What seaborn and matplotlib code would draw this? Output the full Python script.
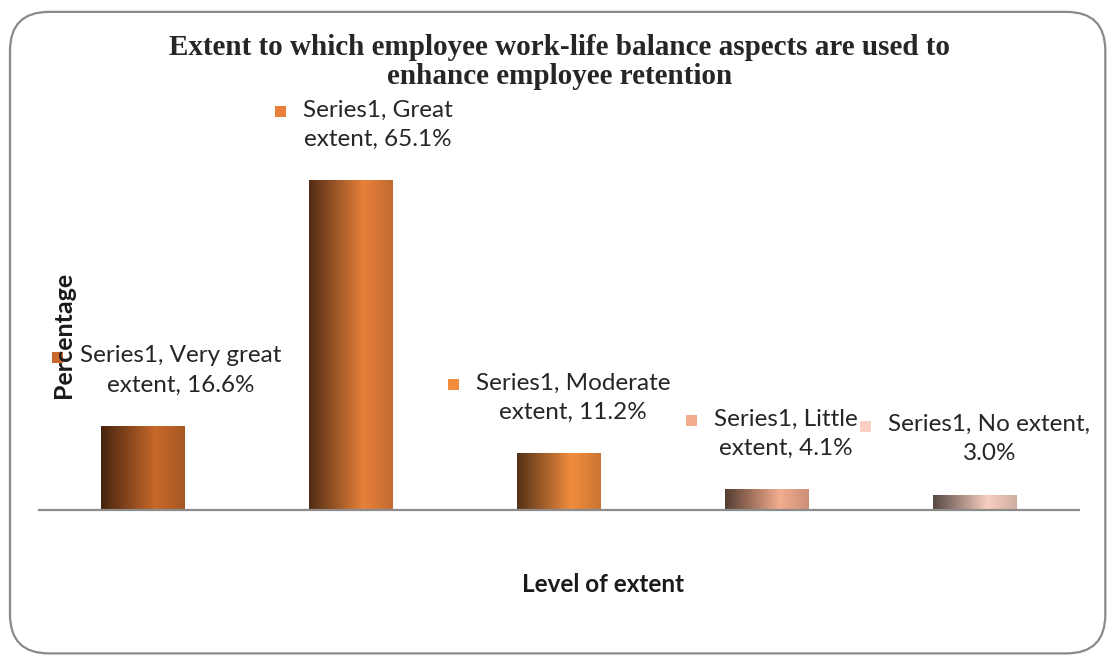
import matplotlib
matplotlib.use("Agg")
import matplotlib.pyplot as plt
import matplotlib.colors as mcolors
import numpy as np
import pandas as pd
import seaborn as sns
from matplotlib.patches import FancyBboxPatch, Rectangle

# data
categories = ["Very great extent", "Great extent", "Moderate extent", "Little extent", "No extent"]
values = [16.6, 65.1, 11.2, 4.1, 3.0]
series_name = "Series1"
bar_colors = ["#C8682A", "#E8803A", "#F28C3E", "#F3AC8E", "#F8CFC0"]
title = "Extent to which employee work-life balance aspects are used to\nenhance employee retention"
x_label = "Level of extent"
y_label = "Percentage"

sns.set_theme(style="white")
plt.rcParams["font.family"] = ["Lato", "DejaVu Sans"]

fig = plt.figure(figsize=(11.12, 6.6), dpi=100)
ax = fig.add_axes([0.035, 0.2273, 0.935, 0.629])

df = pd.DataFrame({"category": categories, "value": values})
sns.barplot(data=df, x="category", y="value", hue="category", palette=bar_colors,
            width=0.4, legend=False, ax=ax, saturation=1)
ax.set_xlim(-0.5, len(categories) - 0.5)
ax.set_ylim(0, 82)

# horizontal gradient fill on each bar
for patch, col in zip(ax.patches, bar_colors):
    rgb = np.array(mcolors.to_rgb(col))
    dark = rgb * 0.35
    t = np.linspace(0, 1, 200)
    ramp = np.where(t < 0.65, t / 0.65, 1 - 0.25 * (t - 0.65) / 0.35)
    grad = dark[None, :] + (rgb - dark)[None, :] * ramp[:, None]
    x0, y0 = patch.get_x(), patch.get_y()
    w, h = patch.get_width(), patch.get_height()
    im = ax.imshow(grad[None, :, :], extent=[x0, x0 + w, y0, y0 + h],
                   aspect="auto", zorder=patch.get_zorder() + 0.1, interpolation="bicubic")
    im.set_clip_path(patch)
    patch.set_edgecolor("none")

ax.set_xticks([])
ax.set_yticks([])
ax.set_xlabel("")
ax.set_ylabel("")
for side in ["top", "left", "right"]:
    ax.spines[side].set_visible(False)
ax.spines["bottom"].set_color("#8c8c8c")
ax.spines["bottom"].set_linewidth(1.6)

# data labels: marker square + two-line text
label_shift = [0.18, 0.13, 0.07, 0.09, 0.07]
texts = []
for i, (cat, val) in enumerate(zip(categories, values)):
    words = cat.split(" ")
    if cat == "No extent":
        txt = f"{series_name}, {cat},\n{val:.1f}%"
    else:
        txt = f"{series_name}, {' '.join(words[:-1])}\n{words[-1]}, {val:.1f}%"
    t = ax.annotate(txt, xy=(i + label_shift[i], val), xytext=(0, 40),
                    textcoords="offset points", ha="center", va="center",
                    fontsize=17.5, color="#262626", linespacing=1.5,
                    annotation_clip=False)
    texts.append(t)

fig.canvas.draw()
renderer = fig.canvas.get_renderer()
for t, col in zip(texts, bar_colors):
    bb = t.get_window_extent(renderer)
    line_h = bb.height / 2
    cy = bb.y1 - line_h * 0.55
    fig.patches.append(Rectangle((bb.x0 - 28, cy - 4), 11, 11, transform=None,
                                 facecolor=col, edgecolor="none"))

fig.text(0.503, 0.906, title, ha="center", va="center", fontsize=21,
         fontweight="bold", family="Liberation Serif", linespacing=1.1)
fig.text(0.0567, 0.492, y_label, rotation=90, ha="center", va="center",
         fontsize=18, fontweight="bold", color="#1a1a1a")
fig.text(0.542, 0.114, x_label, ha="center", va="center",
         fontsize=17.5, fontweight="bold", color="#1a1a1a")

border = FancyBboxPatch((0.009, 0.01), 0.985, 0.972, boxstyle="round,pad=0,rounding_size=0.035",
                        transform=fig.transFigure, facecolor="none", edgecolor="#8a8a8a",
                        linewidth=1.6, mutation_aspect=1112 / 660)
fig.patches.append(border)

fig.savefig("out.png", dpi=100)
